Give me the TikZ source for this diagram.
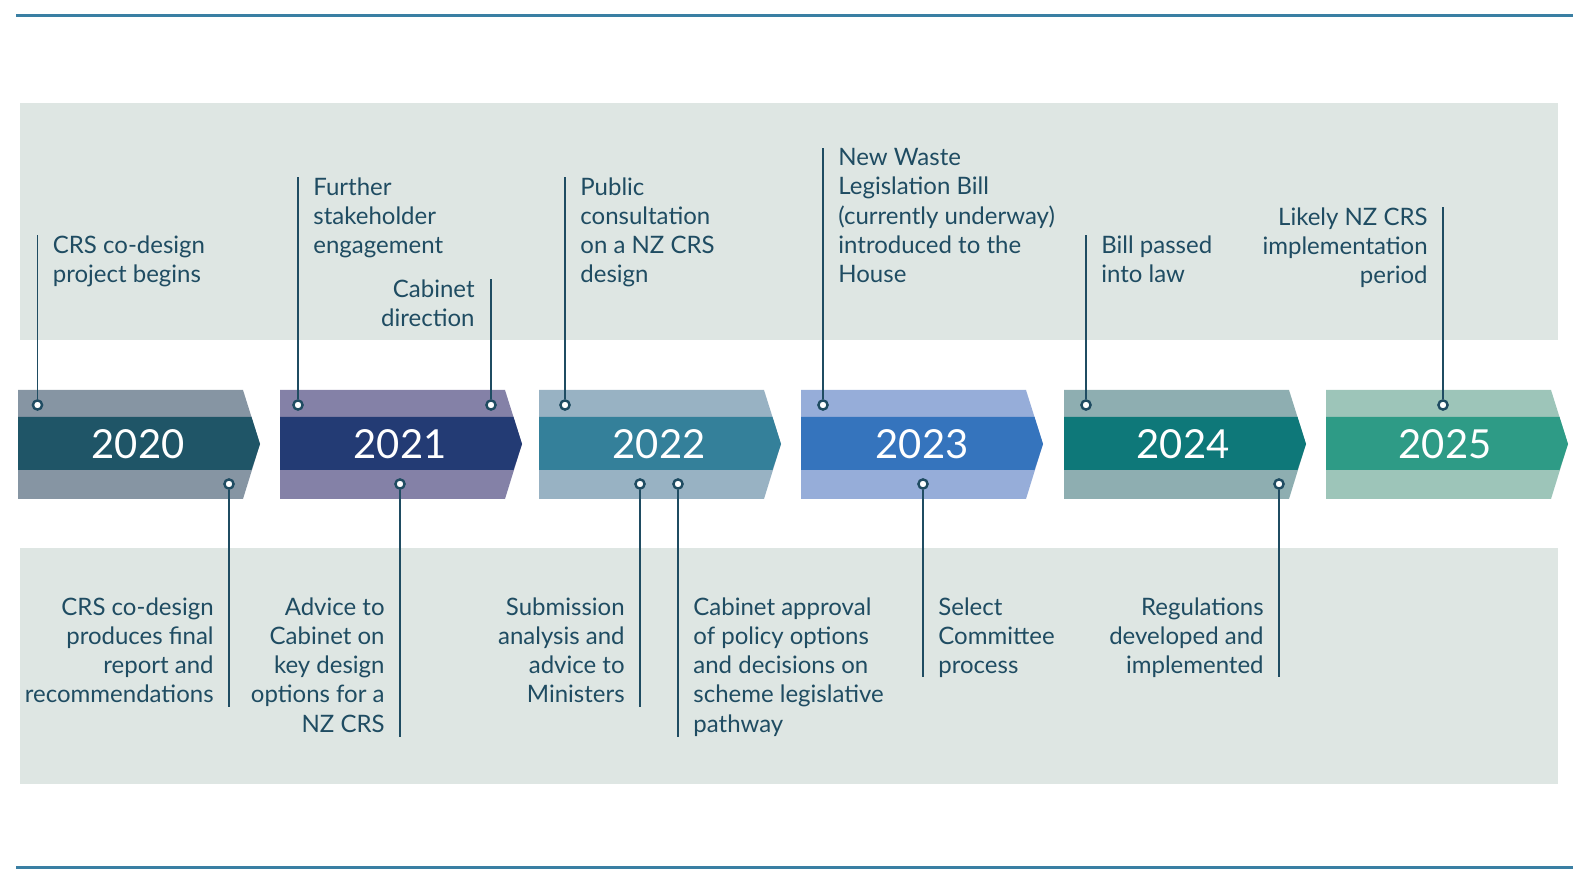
\documentclass[tikz,border=0pt]{standalone}
\usepackage{fontspec}
\setmainfont{Lato}
\usetikzlibrary{positioning}
\definecolor{rulecol}{HTML}{3A7FA3}
\definecolor{panelcol}{HTML}{DEE6E3}
\definecolor{inkcol}{HTML}{1F4C62}
\definecolor{lite20}{HTML}{8695A3}\definecolor{dark20}{HTML}{1F5567}
\definecolor{lite21}{HTML}{8481A7}\definecolor{dark21}{HTML}{233B74}
\definecolor{lite22}{HTML}{98B2C3}\definecolor{dark22}{HTML}{34809A}
\definecolor{lite23}{HTML}{96ADD9}\definecolor{dark23}{HTML}{3574BD}
\definecolor{lite24}{HTML}{8EAEB1}\definecolor{dark24}{HTML}{0E7879}
\definecolor{lite25}{HTML}{9DC5B9}\definecolor{dark25}{HTML}{2E9B86}
\begin{document}
\begin{tikzpicture}[
    x=0.5pt, y=-0.5pt,
    rulebar/.style={draw=rulecol, line width=1.5pt},
    dot/.style={circle, draw=inkcol, fill=white, line width=1.2pt,
                minimum size=4.6pt, inner sep=0pt},
    stem/.style={draw=inkcol, line width=0.75pt},
    note/.style={font=\fontsize{12}{14.65}\selectfont, text=inkcol, inner sep=0pt},
    noteL/.style={note, align=left, anchor=north west},
    noteR/.style={note, align=right, anchor=north east},
    year/.style={font=\fontsize{20}{24}\selectfont, text=white, inner sep=0pt},
]
\useasboundingbox (0,0) rectangle (1590,886);
% background panels and rules
\fill[panelcol] (20,103) rectangle (1558,340);
\fill[panelcol] (20,548) rectangle (1558,784);
\draw[rulebar] (16,16) -- (1573,16);
\draw[rulebar] (16,867) -- (1573,867);

% year chevrons
\fill[lite20] (18,390) -- ++(225,0) -- ++(17,54) -- ++(-17,55) -- ++(-225,0) -- cycle;
\fill[dark20] (18,417) -- ++(233.5,0) -- ++(8.5,27) -- ++(-8.5,26) -- ++(-233.5,0) -- cycle;
\fill[lite21] (280,390) -- ++(225,0) -- ++(17,54) -- ++(-17,55) -- ++(-225,0) -- cycle;
\fill[dark21] (280,417) -- ++(233.5,0) -- ++(8.5,27) -- ++(-8.5,26) -- ++(-233.5,0) -- cycle;
\fill[lite22] (539,390) -- ++(225,0) -- ++(17,54) -- ++(-17,55) -- ++(-225,0) -- cycle;
\fill[dark22] (539,417) -- ++(233.5,0) -- ++(8.5,27) -- ++(-8.5,26) -- ++(-233.5,0) -- cycle;
\fill[lite23] (801,390) -- ++(225,0) -- ++(17,54) -- ++(-17,55) -- ++(-225,0) -- cycle;
\fill[dark23] (801,417) -- ++(233.5,0) -- ++(8.5,27) -- ++(-8.5,26) -- ++(-233.5,0) -- cycle;
\fill[lite24] (1064,390) -- ++(225,0) -- ++(17,54) -- ++(-17,55) -- ++(-225,0) -- cycle;
\fill[dark24] (1064,417) -- ++(233.5,0) -- ++(8.5,27) -- ++(-8.5,26) -- ++(-233.5,0) -- cycle;
\fill[lite25] (1326,390) -- ++(225,0) -- ++(17,54) -- ++(-17,55) -- ++(-225,0) -- cycle;
\fill[dark25] (1326,417) -- ++(233.5,0) -- ++(8.5,27) -- ++(-8.5,26) -- ++(-233.5,0) -- cycle;

\node[year] (y2020) at (138,444) {2020};
\node[year] (y2021) at (400,444) {2021};
\node[year] (y2022) at (659,444) {2022};
\node[year] (y2023) at (922,444) {2023};
\node[year] (y2024) at (1183,444) {2024};
\node[year] (y2025) at (1445,444) {2025};

% milestones above the line
\node[dot] (d1) at (37.5,405) {};  \coordinate (c1) at (37.5,235);
\node[dot] (d2) at (298,405) {};   \coordinate (c2) at (298,177);
\node[dot] (d3) at (491,405) {};   \coordinate (c3) at (491,279);
\node[dot] (d4) at (565,405) {};   \coordinate (c4) at (565,177);
\node[dot] (d5) at (823,405) {};   \coordinate (c5) at (823,148);
\node[dot] (d6) at (1086,405) {};  \coordinate (c6) at (1086,235);
\node[dot] (d7) at (1443,405) {};  \coordinate (c7) at (1443,207);
\foreach \i in {1,...,7} \draw[stem] (d\i) -- (c\i);

\node[noteL] (t1) at (52.5,235) {CRS co-design\\project begins};
\node[noteL] (t2) at (313,177) {Further\\stakeholder\\engagement};
\node[noteR] (t3) at (475,279) {Cabinet\\direction};
\node[noteL] (t4) at (580,177) {Public\\consultation\\on a NZ CRS\\design};
\node[noteL] (t5) at (838,148) {New Waste\\Legislation Bill\\(currently underway)\\introduced to the\\House};
\node[noteL] (t6) at (1101,235) {Bill passed\\into law};
\node[noteR] (t7) at (1428,207) {Likely NZ CRS\\implementation\\period};

% milestones below the line
\node[dot] (u1) at (229,484) {};   \coordinate (v1) at (229,707);
\node[dot] (u2) at (400,484) {};   \coordinate (v2) at (400,737);
\node[dot] (u3) at (640,484) {};   \coordinate (v3) at (640,707);
\node[dot] (u4) at (678,484) {};   \coordinate (v4) at (678,737);
\node[dot] (u5) at (923,484) {};   \coordinate (v5) at (923,677);
\node[dot] (u6) at (1279,484) {};  \coordinate (v6) at (1279,677);
\foreach \i in {1,...,6} \draw[stem] (u\i) -- (v\i);

\node[noteR] (s1) at (214,597) {CRS co-design\\produces final\\report and\\recommendations};
\node[noteR] (s2) at (385,597) {Advice to\\Cabinet on\\key design\\options for a\\NZ CRS};
\node[noteR] (s3) at (625,597) {Submission\\analysis and\\advice to\\Ministers};
\node[noteL] (s4) at (693,597) {Cabinet approval\\of policy options\\and decisions on\\scheme legislative\\pathway};
\node[noteL] (s5) at (938,597) {Select\\Committee\\process};
\node[noteR] (s6) at (1264,597) {Regulations\\developed and\\implemented};
\end{tikzpicture}
\end{document}
